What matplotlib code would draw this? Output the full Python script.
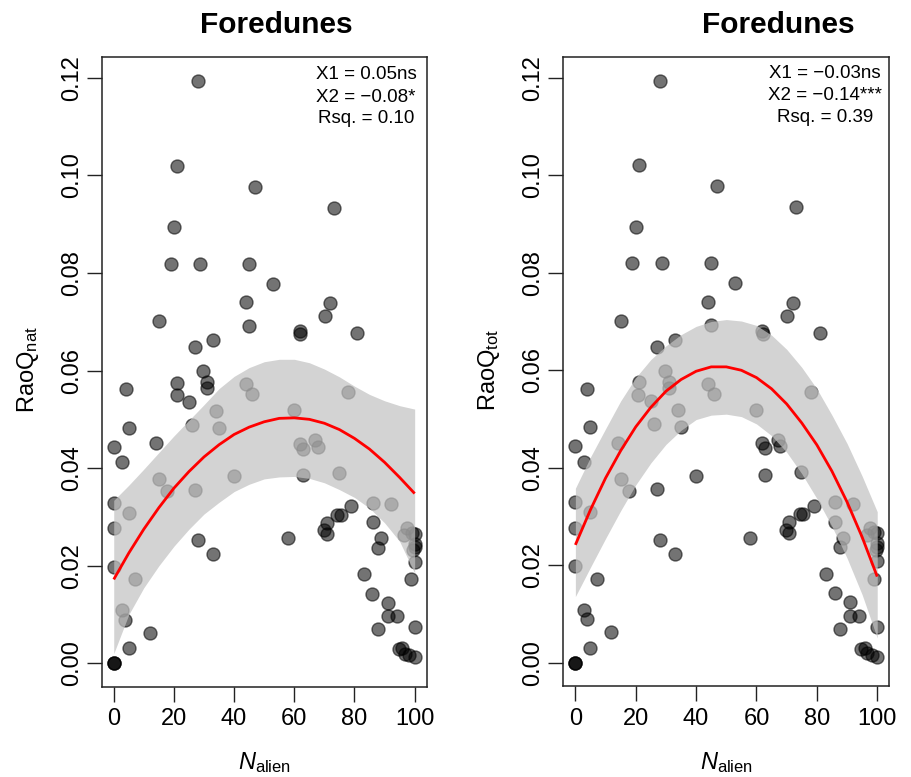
import numpy as np
import matplotlib
matplotlib.use("Agg")
import matplotlib.pyplot as plt

plt.rcParams['font.family'] = ['Liberation Sans', 'DejaVu Sans']
plt.rcParams['mathtext.fontset'] = 'custom'
plt.rcParams['mathtext.rm'] = 'Liberation Sans'
plt.rcParams['mathtext.it'] = 'Liberation Sans:italic'
plt.rcParams['mathtext.bf'] = 'Liberation Sans:bold'

# ---------------- data ----------------
n_alien = [28.1, 21.0, 47.0, 73.1, 20.0, 18.9, 28.8, 44.9, 53.0, 43.9,
           72.0, 15.0, 70.2, 44.9, 61.8, 62.0, 81.0, 32.9, 26.9, 29.8,
           21.0, 30.9, 30.9, 4.0, 20.9, 24.9, 43.9, 45.9, 77.9, 34.0,
           59.9, 25.9, 35.1, 5.0, 0.0, 14.0, 2.7, 61.8, 62.8, 67.0,
           67.9, 15.0, 39.8, 62.9, 74.8, 17.8, 26.9, 0.0, 5.0, 0.0,
           27.9, 32.9, 57.9, 0.0, 7.0, 2.7, 3.9, 11.9, 5.0, 0.0,
           0.0, 0.0, 70.9, 69.9, 70.9, 74.3, 75.5, 78.9, 86.0, 92.0,
           86.0, 88.8, 87.8, 83.0, 85.9, 91.0, 91.0, 94.0, 87.8, 94.7,
           95.8, 96.7, 98.2, 100.0, 100.0, 98.9, 100.0, 100.0, 100.0, 99.5,
           97.5, 96.5, 99.0, 100.0]
raoq = [0.1193, 0.1020, 0.0977, 0.0934, 0.0894, 0.0819, 0.0819, 0.0819, 0.0778, 0.0740,
        0.0738, 0.0701, 0.0711, 0.0692, 0.0680, 0.0675, 0.0676, 0.0662, 0.0648, 0.0599,
        0.0575, 0.0576, 0.0564, 0.0562, 0.0549, 0.0536, 0.0572, 0.0551, 0.0555, 0.0518,
        0.0519, 0.0489, 0.0483, 0.0483, 0.0444, 0.0451, 0.0412, 0.0450, 0.0440, 0.0458,
        0.0444, 0.0378, 0.0383, 0.0385, 0.0391, 0.0353, 0.0356, 0.0329, 0.0309, 0.0277,
        0.0253, 0.0224, 0.0257, 0.0198, 0.0172, 0.0109, 0.0089, 0.0063, 0.0031, 0.0000,
        0.0000, 0.0000, 0.0288, 0.0273, 0.0266, 0.0305, 0.0305, 0.0322, 0.0329, 0.0326,
        0.0289, 0.0256, 0.0237, 0.0183, 0.0143, 0.0124, 0.0097, 0.0097, 0.0070, 0.0029,
        0.0031, 0.0020, 0.0017, 0.0013, 0.0074, 0.0172, 0.0208, 0.0245, 0.0238, 0.0232,
        0.0277, 0.0262, 0.0268, 0.0266]

fit_x = [0, 5, 10, 15, 20, 25, 30, 35, 40, 45, 50,
         55, 60, 65, 70, 75, 80, 85, 90, 95, 100]
nat_fit = [0.0172, 0.0226, 0.0275, 0.0319, 0.0359, 0.0393, 0.0423, 0.0448, 0.0469, 0.0484, 0.0495,
           0.0502, 0.0503, 0.0500, 0.0492, 0.0479, 0.0461, 0.0439, 0.0412, 0.0381, 0.0348]
nat_upper = [0.0334, 0.0365, 0.0398, 0.0432, 0.0466, 0.0498, 0.0530, 0.0563, 0.0588, 0.0606, 0.0618,
             0.0623, 0.0623, 0.0616, 0.0603, 0.0587, 0.0568, 0.0551, 0.0538, 0.0528, 0.0521]
nat_lower = [0.0020, 0.0100, 0.0155, 0.0200, 0.0240, 0.0275, 0.0306, 0.0330, 0.0352, 0.0367, 0.0378,
             0.0382, 0.0383, 0.0379, 0.0370, 0.0356, 0.0340, 0.0318, 0.0288, 0.0250, 0.0185]
tot_fit = [0.0242, 0.0314, 0.0379, 0.0435, 0.0484, 0.0524, 0.0557, 0.0581, 0.0598, 0.0607, 0.0607,
           0.0600, 0.0585, 0.0562, 0.0531, 0.0492, 0.0447, 0.0393, 0.0330, 0.0258, 0.0177]
tot_upper = [0.0358, 0.0422, 0.0480, 0.0537, 0.0585, 0.0622, 0.0650, 0.0673, 0.0690, 0.0700, 0.0704,
             0.0701, 0.0692, 0.0672, 0.0643, 0.0606, 0.0562, 0.0508, 0.0450, 0.0383, 0.0310]
tot_lower = [0.0136, 0.0196, 0.0255, 0.0312, 0.0365, 0.0410, 0.0448, 0.0477, 0.0499, 0.0508, 0.0510,
             0.0505, 0.0490, 0.0466, 0.0432, 0.0388, 0.0337, 0.0280, 0.0215, 0.0140, 0.0051]

panel_titles = ["Foredunes", "Foredunes"]
y_labels = [r"RaoQ$_{\mathrm{nat}}$", r"RaoQ$_{\mathrm{tot}}$"]
x_label = r"$N_{\mathrm{alien}}$"
stats_lines = [["X1 = 0.05ns", "X2 = \u22120.08*", "Rsq. = 0.10"],
               ["X1 = \u22120.03ns", "X2 = \u22120.14***", "Rsq. = 0.39"]]
x_ticks = [0, 20, 40, 60, 80, 100]
y_ticks = [0.00, 0.02, 0.04, 0.06, 0.08, 0.10, 0.12]
y_ticklabels = ["0.00", "0.02", "0.04", "0.06", "0.08", "0.10", "0.12"]

# ---------------- layout ----------------
W, H = 911, 777
fig = plt.figure(figsize=(W / 100, H / 100), dpi=100)

def rect(l, t, r, b):
    return [l / W, 1 - b / H, (r - l) / W, (b - t) / H]

panels = [
    dict(rect=rect(101.7, 56.7, 426.7, 686.7), fit=nat_fit, lo=nat_lower, hi=nat_upper,
         title_x=276, stats_x=366, stats_y=[79.3, 101.5, 123.3], ylab_x=28, xlab_x=264),
    dict(rect=rect(563.3, 56.7, 889.3, 686.2), fit=tot_fit, lo=tot_lower, hi=tot_upper,
         title_x=778, stats_x=825, stats_y=[77.5, 99.5, 121.7], ylab_x=489, xlab_x=726),
]

for i, p in enumerate(panels):
    ax = fig.add_axes(p['rect'])
    ax.scatter(n_alien, raoq, s=88, facecolor=(0, 0, 0, 0.55),
               edgecolor=(0, 0, 0, 0.55), linewidth=1.0, zorder=2)
    ax.fill_between(fit_x, p['lo'], p['hi'], color='#c2c2c2', alpha=0.72,
                    linewidth=0, zorder=3)
    ax.plot(fit_x, p['fit'], color='#ff0000', lw=2.0, zorder=4, solid_capstyle='butt')

    ax.set_xlim(-4, 104)
    ax.set_ylim(-0.00478, 0.1243)
    ax.set_xticks(x_ticks)
    ax.set_xticklabels([str(t) for t in x_ticks])
    ax.set_yticks(y_ticks)
    ax.set_yticklabels(y_ticklabels, rotation=90, va='center')
    ax.tick_params(axis='both', direction='out', length=10.5, width=1.0,
                   labelsize=17, color='#222222')
    ax.tick_params(axis='x', pad=5)
    ax.tick_params(axis='y', pad=3)
    for sp in ax.spines.values():
        sp.set_linewidth(1.1)
        sp.set_color('#222222')

    fig.text(p['title_x'] / W, 1 - 33.3 / H, panel_titles[i], ha='center',
             va='baseline', fontsize=21.5, fontweight='bold')
    for line, yb in zip(stats_lines[i], p['stats_y']):
        fig.text(p['stats_x'] / W, 1 - yb / H, line, ha='center', va='baseline',
                 fontsize=13.5)
    fig.text(p['ylab_x'] / W, 1 - 370 / H, y_labels[i], rotation=90,
             ha='center', va='center', fontsize=17)
    fig.text(p['xlab_x'] / W, 1 - 769 / H, x_label, ha='center', va='baseline',
             fontsize=17)

fig.savefig("out.png", dpi=100)
